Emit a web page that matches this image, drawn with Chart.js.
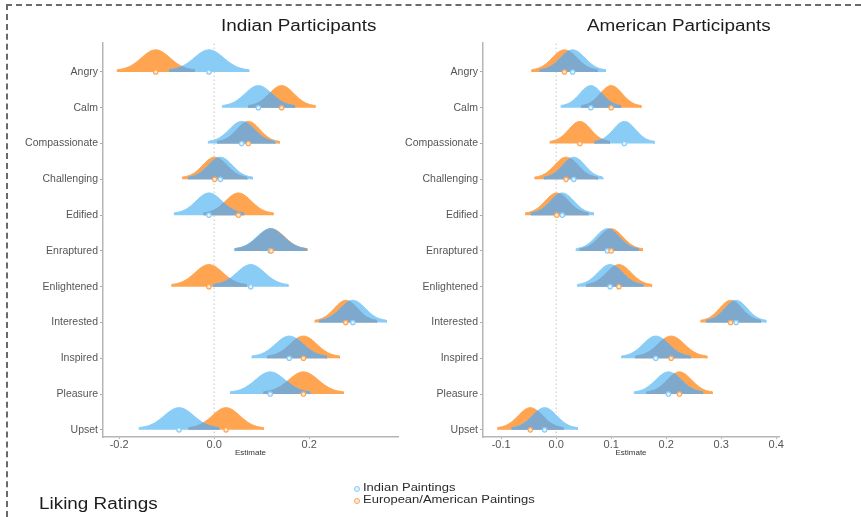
<!DOCTYPE html>
<html>
<head>
<meta charset="utf-8">
<script src="https://cdn.jsdelivr.net/npm/chart.js@4.4.1/dist/chart.umd.min.js"></script>
<style>
    body { margin: 0; background: #fff; font-family: "Liberation Sans", Arial, sans-serif; }
    #wrap { position: relative; width: 861px; height: 517px; overflow: hidden; background: #fff; }
    .frame-top { position: absolute; left: 6px; top: 4px; width: 855px; height: 0;
                 border-top: 2px dashed #6a6a6a; }
    .frame-left { position: absolute; left: 6px; top: 4px; width: 0; height: 513px;
                  border-left: 2px dashed #6a6a6a; }
    canvas { position: absolute; top: 0; }
    .txt { position: absolute; white-space: nowrap; transform-origin: 0 0; transform: scaleX(1.18); color: #1c1c1c; }
    .title { font-size: 16px; line-height: 16px; }
    .leg { font-size: 11px; line-height: 11px; color: #2a2a2a; }
    .dot { position: absolute; width: 4px; height: 4px; border-radius: 50%; }
</style>
</head>
<body>
<div id="wrap">
    <div class="frame-top"></div>
    <div class="frame-left"></div>
    <canvas id="leftChart" width="420" height="517" style="left:0"></canvas>
    <canvas id="rightChart" width="481" height="517" style="left:380px"></canvas>

    <div class="txt title" style="left:221px;top:18px">Indian Participants</div>
    <div class="txt title" style="left:587px;top:18px">American Participants</div>
    <div class="txt title" style="left:39px;top:496px">Liking Ratings</div>

    <div class="dot" style="left:354px;top:486px;border:1px solid #89CCF6;background:#dff2fd"></div>
    <div class="dot" style="left:354px;top:498px;border:1px solid #FFA552;background:#fde9d6"></div>
    <div class="txt leg" style="left:363px;top:482px">Indian Paintings</div>
    <div class="txt leg" style="left:363px;top:494px">European/American Paintings</div>
</div>

<script>
    // --- DADOS ---
    const categories = ['Angry', 'Calm', 'Compassionate', 'Challenging', 'Edified', 'Enraptured',
        'Enlightened', 'Interested', 'Inspired', 'Pleasure', 'Upset'];

    // Indian participants
    const leftIndianMean = [-0.011, 0.093, 0.058, 0.013, -0.011, 0.118, 0.077, 0.292, 0.158, 0.118, -0.074];
    const leftIndianSd   = [0.031, 0.028, 0.026, 0.025, 0.027, 0.028, 0.029, 0.026, 0.029, 0.031, 0.031];
    const leftEuroMean   = [-0.123, 0.142, 0.072, 0.001, 0.051, 0.120, -0.011, 0.277, 0.188, 0.188, 0.025];
    const leftEuroSd     = [0.030, 0.026, 0.024, 0.025, 0.027, 0.028, 0.029, 0.024, 0.028, 0.031, 0.029];

    // American participants
    const rightIndianMean = [0.030, 0.063, 0.124, 0.032, 0.011, 0.093, 0.098, 0.327, 0.181, 0.204, -0.021];
    const rightIndianSd   = [0.022, 0.020, 0.020, 0.020, 0.021, 0.021, 0.022, 0.020, 0.023, 0.023, 0.022];
    const rightEuroMean   = [0.015, 0.100, 0.043, 0.018, 0.001, 0.100, 0.114, 0.317, 0.209, 0.224, -0.047];
    const rightEuroSd     = [0.022, 0.020, 0.020, 0.021, 0.021, 0.021, 0.022, 0.020, 0.024, 0.022, 0.022];

    const leftTicks = [-0.2, 0.0, 0.2];
    const rightTicks = [-0.1, 0.0, 0.1, 0.2, 0.3, 0.4];

    const BLUE = '#89CCF6';
    const ORANGE = '#FFA552';
    const OVERLAP = '#7FA8CD';

    const Y_MIN = -0.2, Y_MAX = 10.81;
    const H = 0.57;      // altura do pico (em linhas)
    const FOOT = 0.05;   // degrau nas pontas
    const K = 2.7;       // corte em desvios-padrão
    const STEPS = 48;

    // densidade normal (meia-curva) acima da linha base
    function dens(x, m, s) {
        if (x < m - K * s || x > m + K * s) return 0;
        const z = (x - m) / s;
        return H * Math.exp(-z * z / 2) + FOOT;
    }

    function curve(m, s, base) {
        const lo = m - K * s, hi = m + K * s;
        const pts = [{ x: lo, y: base }];
        for (let i = 0; i <= STEPS; i++) {
            const x = lo + (hi - lo) * i / STEPS;
            pts.push({ x: x, y: base + dens(x, m, s) });
        }
        pts.push({ x: hi, y: base });
        return pts;
    }

    function overlap(m1, s1, m2, s2, base) {
        const lo = Math.max(m1 - K * s1, m2 - K * s2);
        const hi = Math.min(m1 + K * s1, m2 + K * s2);
        if (hi <= lo) return [];
        const pts = [{ x: lo, y: base }];
        for (let i = 0; i <= STEPS * 2; i++) {
            const x = lo + (hi - lo) * i / (STEPS * 2);
            pts.push({ x: x, y: base + Math.min(dens(x, m1, s1), dens(x, m2, s2)) });
        }
        pts.push({ x: hi, y: base });
        return pts;
    }

    function shape(data, color, base, order) {
        return {
            data: data, borderColor: color, backgroundColor: color, borderWidth: 1,
            pointRadius: 0, tension: 0, fill: { value: base }, order: order
        };
    }

    function makePanel(id, inMean, inSd, euMean, euSd, xMin, xMax, ticks, padRight) {
        const n = categories.length;
        const datasets = [];

        // linha pontilhada no zero
        datasets.push({
            data: [{ x: 0, y: Y_MIN }, { x: 0, y: Y_MAX }],
            borderColor: '#c4c4c4', borderWidth: 1, borderDash: [1.5, 2.5],
            pointRadius: 0, fill: false, order: 10
        });

        categories.forEach((c, i) => {
            const base = n - 1 - i;
            datasets.push(shape(curve(euMean[i], euSd[i], base), ORANGE, base, 6));
            datasets.push(shape(curve(inMean[i], inSd[i], base), BLUE, base, 5));
            const ov = overlap(inMean[i], inSd[i], euMean[i], euSd[i], base);
            if (ov.length) datasets.push(shape(ov, OVERLAP, base, 4));
        });

        // médias
        datasets.push({
            data: euMean.map((m, i) => ({ x: m, y: n - 1 - i })), showLine: false,
            pointRadius: 2.2, borderWidth: 1.2, pointBorderColor: ORANGE,
            pointBackgroundColor: '#fde9d6', order: 1
        });
        datasets.push({
            data: inMean.map((m, i) => ({ x: m, y: n - 1 - i })), showLine: false,
            pointRadius: 2.2, borderWidth: 1.2, pointBorderColor: BLUE,
            pointBackgroundColor: '#e4f4fe', order: 1
        });

        new Chart(document.getElementById(id).getContext('2d'), {
            type: 'line',
            data: { datasets: datasets },
            options: {
                responsive: false,
                animation: false,
                devicePixelRatio: 1,
                layout: { padding: { left: 0, right: padRight, top: 43, bottom: 59 } },
                plugins: { legend: { display: false }, tooltip: { enabled: false } },
                scales: {
                    x: {
                        type: 'linear', min: xMin, max: xMax,
                        afterBuildTicks: a => { a.ticks = ticks.map(v => ({ value: v })); },
                        afterFit: s => { s.height = 21; },
                        ticks: {
                            callback: v => v.toFixed(1), color: '#555', padding: -1,
                            font: { family: 'Liberation Sans', size: 11 }, maxRotation: 0, autoSkip: false
                        },
                        grid: { drawOnChartArea: false, tickLength: 2, color: '#aaa' },
                        border: { color: '#b5b5b5', width: 1.5 },
                        title: {
                            display: true, text: 'Estimate', color: '#333',
                            font: { family: 'Liberation Sans', size: 8 }, padding: { top: 0, bottom: 0 }
                        }
                    },
                    y: {
                        type: 'linear', min: Y_MIN, max: Y_MAX,
                        afterBuildTicks: a => { a.ticks = categories.map((c, i) => ({ value: i })); },
                        afterFit: s => { s.width = 103; },
                        ticks: {
                            callback: v => categories[n - 1 - v], color: '#555', padding: 2,
                            font: { family: 'Liberation Sans', size: 10.5 }, autoSkip: false
                        },
                        grid: { drawOnChartArea: false, tickLength: 3, color: '#aaa' },
                        border: { color: '#b5b5b5', width: 1.5 }
                    }
                }
            }
        });
    }

    makePanel('leftChart', leftIndianMean, leftIndianSd, leftEuroMean, leftEuroSd, -0.234, 0.387, leftTicks, 22);
    makePanel('rightChart', rightIndianMean, rightIndianSd, rightEuroMean, rightEuroSd, -0.133, 0.405, rightTicks, 82);
</script>
</body>
</html>
